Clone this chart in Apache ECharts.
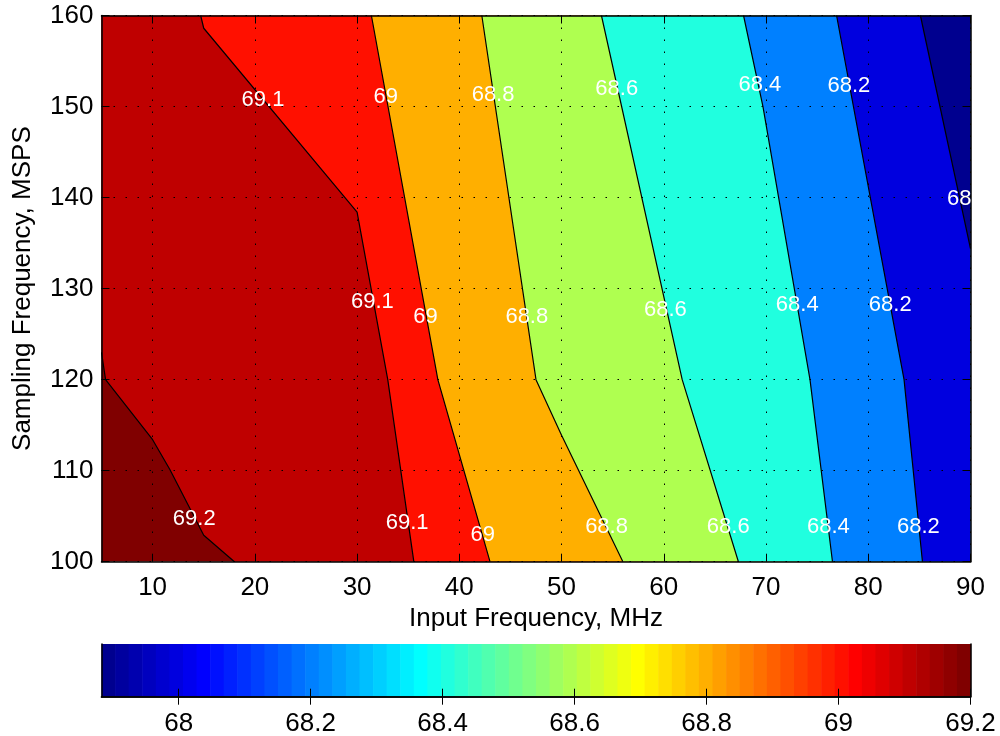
<!DOCTYPE html>
<html><head><meta charset="utf-8">
<script src="https://cdn.jsdelivr.net/npm/echarts@6/dist/echarts.min.js"></script>
<style>html,body{margin:0;padding:0;background:#fff}#c{width:1000px;height:736px}</style>
</head><body><div id="c"></div>
<script>
// ---------- data ----------
const xTicks = [10, 20, 30, 40, 50, 60, 70, 80, 90];
const yTicks = [100, 110, 120, 130, 140, 150, 160];
const cbTicks = [68, 68.2, 68.4, 68.6, 68.8, 69, 69.2];
const xRange = [5, 90];
const yRange = [100, 160];
const cRange = [67.883, 69.2];
// contour levels (high to low) and their polylines [MHz, MSPS]
const levels = [69.2, 69.1, 69.0, 68.8, 68.6, 68.4, 68.2, 68.0];
const line692 = [[5, 123], [5.4, 120], [10, 113.4], [11.7, 110.1], [15, 102.9], [18, 100]];
const line691 = [[14.7, 160], [15.0, 158.6], [30, 138.4], [33, 120], [35.55, 100]];
const line690 = [[31.4, 160], [37.9, 120], [43.0, 100]];
const line688 = [[42.2, 160], [47.5, 120], [50, 113.9], [56, 100]];
const line686 = [[53.9, 160], [61.8, 120], [67.3, 100]];
const line684 = [[67.8, 160], [69.7, 150], [74.3, 120], [76.5, 100]];
const line682 = [[76.9, 160], [83.5, 120], [85.3, 100]];
const line680 = [[85.1, 160], [90, 134.4]];
const contourLines = [line692, line691, line690, line688, line686, line684, line682, line680];
// contour labels
const labelText = ['69.1', '69', '68.8', '68.6', '68.4', '68.2', '68',
                   '69.1', '69', '68.8', '68.6', '68.4', '68.2',
                   '69.2', '69.1', '69', '68.8', '68.6', '68.4', '68.2'];
const labelX = [20.8, 32.8, 43.3, 55.4, 69.4, 78.1, 88.9,
                31.5, 36.7, 46.6, 60.15, 73.05, 82.15,
                14.07, 34.9, 42.3, 54.4, 66.3, 76.1, 84.9];
const labelY = [150.7, 151.1, 151.3, 151.9, 152.4, 152.3, 139.8,
                128.5, 126.9, 126.9, 127.7, 128.2, 128.2,
                104.7, 104.3, 102.9, 103.8, 103.8, 103.8, 103.8];

// ---------- jet colormap ----------
function jet(i) { // i = 1..64
  const u = p => (p < 1 || p > 47) ? 0 : (p <= 16 ? p / 16 : (p <= 31 ? 1 : (48 - p) / 16));
  const c = v => Math.round(v * 255);
  return 'rgb(' + c(u(i - 24)) + ',' + c(u(i - 8)) + ',' + c(u(i + 8)) + ')';
}
function colorFor(v) {
  let idx = Math.floor((v - cRange[0]) / (cRange[1] - cRange[0]) * 64 + 1e-9) + 1;
  idx = Math.max(1, Math.min(64, idx));
  return jet(idx);
}

// ---------- region polygons (value < level) ----------
const X0 = xRange[0], X1 = xRange[1], Y0 = yRange[0], Y1 = yRange[1];
const W = X1 - X0, H = Y1 - Y0, P = 2 * (W + H);
function perim(pt) {
  const [x, y] = pt;
  if (Math.abs(y - Y0) < 1e-6) return x - X0;
  if (Math.abs(x - X1) < 1e-6) return W + (y - Y0);
  if (Math.abs(y - Y1) < 1e-6) return W + H + (X1 - x);
  return 2 * W + H + (Y1 - y);
}
const corners = [[X1, Y0], [X1, Y1], [X0, Y1], [X0, Y0]];
const cornerT = corners.map(perim);
function regionBelow(line) {
  const pts = line.slice();
  const tEnd = perim(line[line.length - 1]);
  let tStart = perim(line[0]);
  if (tStart <= tEnd) tStart += P;
  const extra = [];
  corners.forEach((c, k) => {
    let t = cornerT[k];
    if (t <= tEnd) t += P;
    if (t < tStart) extra.push([t, c]);
  });
  extra.sort((a, b) => a[0] - b[0]);
  extra.forEach(e => pts.push(e[1]));
  return pts;
}
const regions = [{ poly: corners.slice(), color: colorFor(levels[0]) }];
contourLines.forEach((ln, k) => {
  const fillVal = k + 1 < levels.length ? levels[k + 1] : cRange[0];
  regions.push({ poly: regionBelow(ln), color: colorFor(fillVal) });
});

const FONT = '"Liberation Sans", Arial, Helvetica, sans-serif';
const FS = 26;
const chart = echarts.init(document.getElementById('c'), null, { renderer: 'canvas' });
const dotted = { color: '#000', width: 1, type: [1.5, 10.5] };

chart.setOption({
  animation: false,
  backgroundColor: '#fff',
  grid: [
    { left: 101.5, top: 15.5, width: 869, height: 546.2, outerBoundsMode: 'none' },
    { left: 101.5, top: 644, width: 869, height: 52.7, outerBoundsMode: 'none' }
  ],
  xAxis: [
    { gridIndex: 0, type: 'value', min: xRange[0], max: xRange[1], position: 'bottom', z: 5,
      axisLine: { show: true, lineStyle: { color: '#000', width: 1.5 } },
      axisTick: { show: true, inside: true, length: 8, customValues: xTicks, lineStyle: { color: '#000', width: 1 } },
      axisLabel: { show: true, customValues: xTicks, margin: 13, fontSize: FS, color: '#000', fontFamily: FONT },
      splitLine: { show: true, lineStyle: dotted },
      name: 'Input Frequency, MHz', nameLocation: 'middle', nameGap: 42,
      nameTextStyle: { fontSize: FS, color: '#000', fontFamily: FONT } },
    { gridIndex: 0, type: 'value', min: xRange[0], max: xRange[1], position: 'top', z: 5,
      axisLine: { show: true, lineStyle: { color: '#000', width: 1.5 } },
      axisTick: { show: true, inside: true, length: 8, customValues: xTicks, lineStyle: { color: '#000', width: 1 } },
      axisLabel: { show: false }, splitLine: { show: false } },
    { gridIndex: 1, type: 'value', min: cRange[0], max: cRange[1], position: 'bottom', z: 5,
      axisLine: { show: true, lineStyle: { color: '#000', width: 1.5 } },
      axisTick: { show: true, inside: true, length: 8, customValues: cbTicks, lineStyle: { color: '#000', width: 1 } },
      axisLabel: { show: true, customValues: cbTicks, margin: 14, fontSize: FS, color: '#000', fontFamily: FONT,
                   formatter: v => String(Math.round(v * 10) / 10) },
      splitLine: { show: false } },
    { gridIndex: 1, type: 'value', min: cRange[0], max: cRange[1], position: 'top', z: 5,
      axisLine: { show: true, lineStyle: { color: '#000', width: 1.5 } },
      axisTick: { show: true, inside: true, length: 8, customValues: cbTicks, lineStyle: { color: '#000', width: 1 } },
      axisLabel: { show: false }, splitLine: { show: false } }
  ],
  yAxis: [
    { gridIndex: 0, type: 'value', min: yRange[0], max: yRange[1], interval: 10, position: 'left', z: 5,
      axisLine: { show: true, lineStyle: { color: '#000', width: 1.5 } },
      axisTick: { show: true, inside: true, length: 8, lineStyle: { color: '#000', width: 1 } },
      axisLabel: { show: true, margin: 8, fontSize: FS, color: '#000', fontFamily: FONT },
      splitLine: { show: true, lineStyle: dotted },
      name: 'Sampling Frequency, MSPS', nameLocation: 'middle', nameGap: 66,
      nameTextStyle: { fontSize: FS, color: '#000', fontFamily: FONT } },
    { gridIndex: 0, type: 'value', min: yRange[0], max: yRange[1], interval: 10, position: 'right', z: 5,
      axisLine: { show: true, lineStyle: { color: '#000', width: 1.5 } },
      axisTick: { show: true, inside: true, length: 8, lineStyle: { color: '#000', width: 1 } },
      axisLabel: { show: false }, splitLine: { show: false } },
    { gridIndex: 1, type: 'value', min: 0, max: 1, position: 'left', z: 5,
      axisLine: { show: true, lineStyle: { color: '#000', width: 1.5 } },
      axisTick: { show: false }, axisLabel: { show: false }, splitLine: { show: false } },
    { gridIndex: 1, type: 'value', min: 0, max: 1, position: 'right', z: 5,
      axisLine: { show: true, lineStyle: { color: '#000', width: 1.5 } },
      axisTick: { show: false }, axisLabel: { show: false }, splitLine: { show: false } }
  ],
  series: [
    { type: 'custom', xAxisIndex: 0, yAxisIndex: 0, z: 1, silent: true, clip: true,
      data: regions.map((r, i) => [i, 0]),
      renderItem: (params, api) => {
        const r = regions[api.value(0)];
        return { type: 'polygon', shape: { points: r.poly.map(p => api.coord(p)) },
                 style: { fill: r.color, stroke: null } };
      } },
    ...contourLines.map(ln => ({
      type: 'line', xAxisIndex: 0, yAxisIndex: 0, z: 3, silent: true, data: ln,
      showSymbol: false, symbol: 'none', lineStyle: { color: '#000', width: 1.2 }
    })),
    { type: 'custom', xAxisIndex: 0, yAxisIndex: 0, z: 6, silent: true, clip: true,
      data: labelX.map((x, i) => [x, labelY[i], i]),
      renderItem: (params, api) => {
        const p = api.coord([api.value(0), api.value(1)]);
        return { type: 'text', x: p[0], y: p[1],
                 style: { text: labelText[api.value(2)], fill: '#fff', fontSize: 22, fontFamily: FONT,
                          align: 'center', verticalAlign: 'middle' } };
      } },
    { type: 'custom', xAxisIndex: 2, yAxisIndex: 2, z: 1, silent: true,
      data: Array.from({ length: 64 }, (_, i) => [i, 0]),
      renderItem: (params, api) => {
        const i = api.value(0);
        const step = (cRange[1] - cRange[0]) / 64;
        const a = api.coord([cRange[0] + i * step, 1]);
        const b = api.coord([cRange[0] + (i + 1) * step, 0]);
        return { type: 'rect', shape: { x: a[0], y: a[1], width: b[0] - a[0] + 0.6, height: b[1] - a[1] },
                 style: { fill: jet(i + 1) } };
      } }
  ]
});
</script></body></html>
